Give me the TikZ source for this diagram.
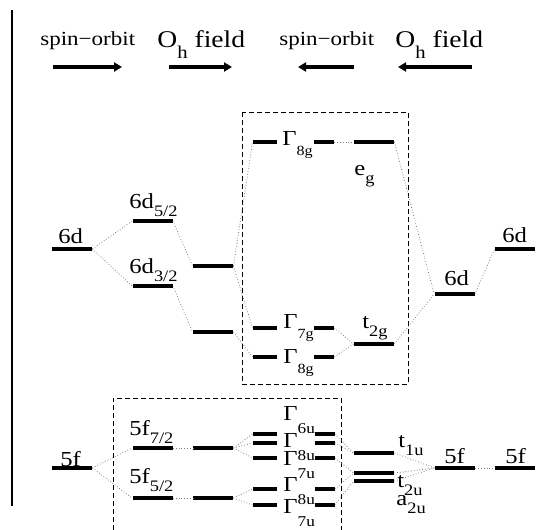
\documentclass[tikz,border=0pt]{standalone}
\usepackage{fontspec}
\setmainfont{Liberation Serif}[FakeStretch=1.15]
\usetikzlibrary{arrows.meta, positioning}
\usepackage{xcolor}

% lowered subscripts as in the level scheme
\newcommand{\lowsub}[1]{\raisebox{-4.3pt}{\fontsize{8}{8}\selectfont #1}}
\newcommand{\gsub}[1]{\raisebox{-5pt}{\fontsize{7}{7}\selectfont #1}}
\newcommand{\usub}[1]{\raisebox{-6.5pt}{\fontsize{7.5}{8}\selectfont #1}}
\newcommand{\ohsub}[1]{\raisebox{-5.5pt}{\fontsize{9}{9}\selectfont #1}}

\begin{document}
\begin{tikzpicture}[x=0.5pt, y=-0.5pt,
  lvl/.style={fill=black, inner sep=0pt, minimum height=2pt, minimum width=20pt},
  gl/.style={fill=black, inner sep=0pt, minimum height=2pt, minimum width=12pt},
  gr/.style={fill=black, inner sep=0pt, minimum height=2pt, minimum width=10pt},
  link/.style={densely dotted, gray, line width=0.4pt},
  lbl/.style={inner sep=0pt, anchor=base west, font=\fontsize{10.7}{12}\selectfont},
  box/.style={dash pattern=on 2.5pt off 1.5pt, line width=0.5pt},
  bigarrow/.style={line width=2pt, -{Triangle[length=4pt,width=4.5pt]}}]
  \useasboundingbox (0,0) rectangle (552,530);

  % Frame line and boxes
  \coordinate (vtop) at (12,10);
  \coordinate (vbot) at (12,506);
  \draw[line width=1pt] (vtop) -- (vbot);
  \draw[box] (242,112) rectangle (408,384);
  \draw[box] (113,530) -- (113,398) -- (341,398) -- (341,530);

  % Headings and arrows
  \node[lbl, font=\fontsize{10}{12}\selectfont] (so1) at (40,46) {spin−orbit};
  \node[lbl, font=\fontsize{12}{14}\selectfont] (oh1) at (157,47) {O\ohsub{h} field};
  \node[lbl, font=\fontsize{10}{12}\selectfont] (so2) at (279,46) {spin−orbit};
  \node[lbl, font=\fontsize{12}{14}\selectfont] (oh2) at (395,47) {O\ohsub{h} field};
  \coordinate (a1s) at (53,67);  \coordinate (a1e) at (122,67);
  \coordinate (a2s) at (169,67); \coordinate (a2e) at (232,67);
  \coordinate (a3s) at (354,67); \coordinate (a3e) at (298,67);
  \coordinate (a4s) at (472,67); \coordinate (a4e) at (398,67);
  \draw[bigarrow] (a1s) -- (a1e);
  \draw[bigarrow] (a2s) -- (a2e);
  \draw[bigarrow] (a3s) -- (a3e);
  \draw[bigarrow] (a4s) -- (a4e);

  % 6d levels
  \node[lvl] (d6a) at (72,249) {};
  \node[lvl] (d52) at (152.5,221) {};
  \node[lvl] (d32) at (152.5,286) {};
  \node[lvl] (oh52) at (213,266) {};
  \node[lvl] (oh32) at (213,332) {};
  \node[gl] (g8a-l) at (265,142) {};
  \node[gr] (g8a-r) at (324,142) {};
  \node[gl] (g7-l) at (265,328) {};
  \node[gr] (g7-r) at (324,328) {};
  \node[gl] (g8b-l) at (265,357) {};
  \node[gr] (g8b-r) at (324,357) {};
  \node[lvl] (eg) at (374,142) {};
  \node[lvl] (t2g) at (374,344) {};
  \node[lvl] (d6b) at (454.5,294) {};
  \node[lvl] (d6c) at (515,249) {};

  % 6d labels
  \node[lbl] (l-d6a) at (58,243) {6d};
  \node[lbl] (l-d52) at (129,208) {6d\lowsub{5/2}};
  \node[lbl] (l-d32) at (129,273) {6d\lowsub{3/2}};
  \node[lbl] (l-g8a) at (282,145) {Γ\gsub{8g}};
  \node[lbl] (l-g7) at (283,328) {Γ\gsub{7g}};
  \node[lbl] (l-g8b) at (283,363) {Γ\gsub{8g}};
  \node[lbl] (l-eg) at (354,175) {e\lowsub{g}};
  \node[lbl] (l-t2g) at (362,328) {t\lowsub{2g}};
  \node[lbl] (l-d6b) at (444,285) {6d};
  \node[lbl] (l-d6c) at (502,242) {6d};

  % 6d connections
  \draw[link] (d6a.east) -- (d52.west);
  \draw[link] (d6a.east) -- (d32.west);
  \draw[link] (d52.east) -- (oh52.west);
  \draw[link] (d32.east) -- (oh32.west);
  \draw[link] (oh52.east) -- (g8a-l.west);
  \draw[link] (oh52.east) -- (g7-l.west);
  \draw[link] (oh32.east) -- (g8b-l.west);
  \draw[link] (g8a-r.east) -- (eg.west);
  \draw[link] (g7-r.east) -- (t2g.west);
  \draw[link] (g8b-r.east) -- (t2g.west);
  \draw[link] (eg.east) -- (d6b.west);
  \draw[link] (t2g.east) -- (d6b.west);
  \draw[link] (d6b.east) -- (d6c.west);

  % 5f levels
  \node[lvl] (f5a) at (72,468) {};
  \node[lvl] (f72) at (152.5,448) {};
  \node[lvl] (f52) at (152.5,498) {};
  \node[lvl] (ohf72) at (213,448) {};
  \node[lvl] (ohf52) at (213,498) {};
  \foreach \n/\yy in {u6/434, u8a/443, u7a/458, u8b/489, u7b/505} {
    \node[gl] (\n-l) at (265,\yy) {};
    \node[gr] (\n-r) at (324.5,\yy) {};
  }
  \node[lvl] (t1u) at (374,453) {};
  \node[lvl] (t2u) at (374,473) {};
  \node[lvl] (a2u) at (374,481) {};
  \node[lvl] (f5b) at (455,468) {};
  \node[lvl] (f5c) at (515,468) {};

  % 5f labels
  \node[lbl] (l-f5a) at (60,466) {5f};
  \node[lbl] (l-f72) at (129,435) {5f\lowsub{7/2}};
  \node[lbl] (l-f52) at (129,483) {5f\lowsub{5/2}};
  \foreach \yy/\s [count=\i] in {420/6u, 447/8u, 465/7u, 491/8u, 513/7u} {
    \node[lbl] (l-u\i) at (283,\yy) {Γ\usub{\s}};
  }
  \node[lbl] (l-t1u) at (398,447) {t\lowsub{1u}};
  \node[lbl] (l-t2u) at (397,487) {t\lowsub{2u}};
  \node[lbl] (l-a2u) at (396,505) {a\lowsub{2u}};
  \node[lbl] (l-f5b) at (444,463) {5f};
  \node[lbl] (l-f5c) at (505,463) {5f};

  % 5f connections
  \draw[link] (f5a.east) -- (f72.west);
  \draw[link] (f5a.east) -- (f52.west);
  \draw[link] (f72.east) -- (ohf72.west);
  \draw[link] (f52.east) -- (ohf52.west);
  \foreach \n in {u6, u8a, u7a} {
    \draw[link] (ohf72.east) -- (\n-l.west);
  }
  \foreach \n in {u8b, u7b} {
    \draw[link] (ohf52.east) -- (\n-l.west);
  }
  \draw[link] (u6-r.east) -- (t1u.west);
  \draw[link] (u8a-r.east) -- (t1u.west);
  \draw[link] (u7a-r.east) -- (t2u.west);
  \draw[link] (u8b-r.east) -- (t2u.west);
  \draw[link] (u7b-r.east) -- (a2u.west);
  \draw[link] (t1u.east) -- (f5b.west);
  \draw[link] (t2u.east) -- (f5b.west);
  \draw[link] (a2u.east) -- (f5b.west);
  \draw[link] (f5b.east) -- (f5c.west);
\end{tikzpicture}
\end{document}
